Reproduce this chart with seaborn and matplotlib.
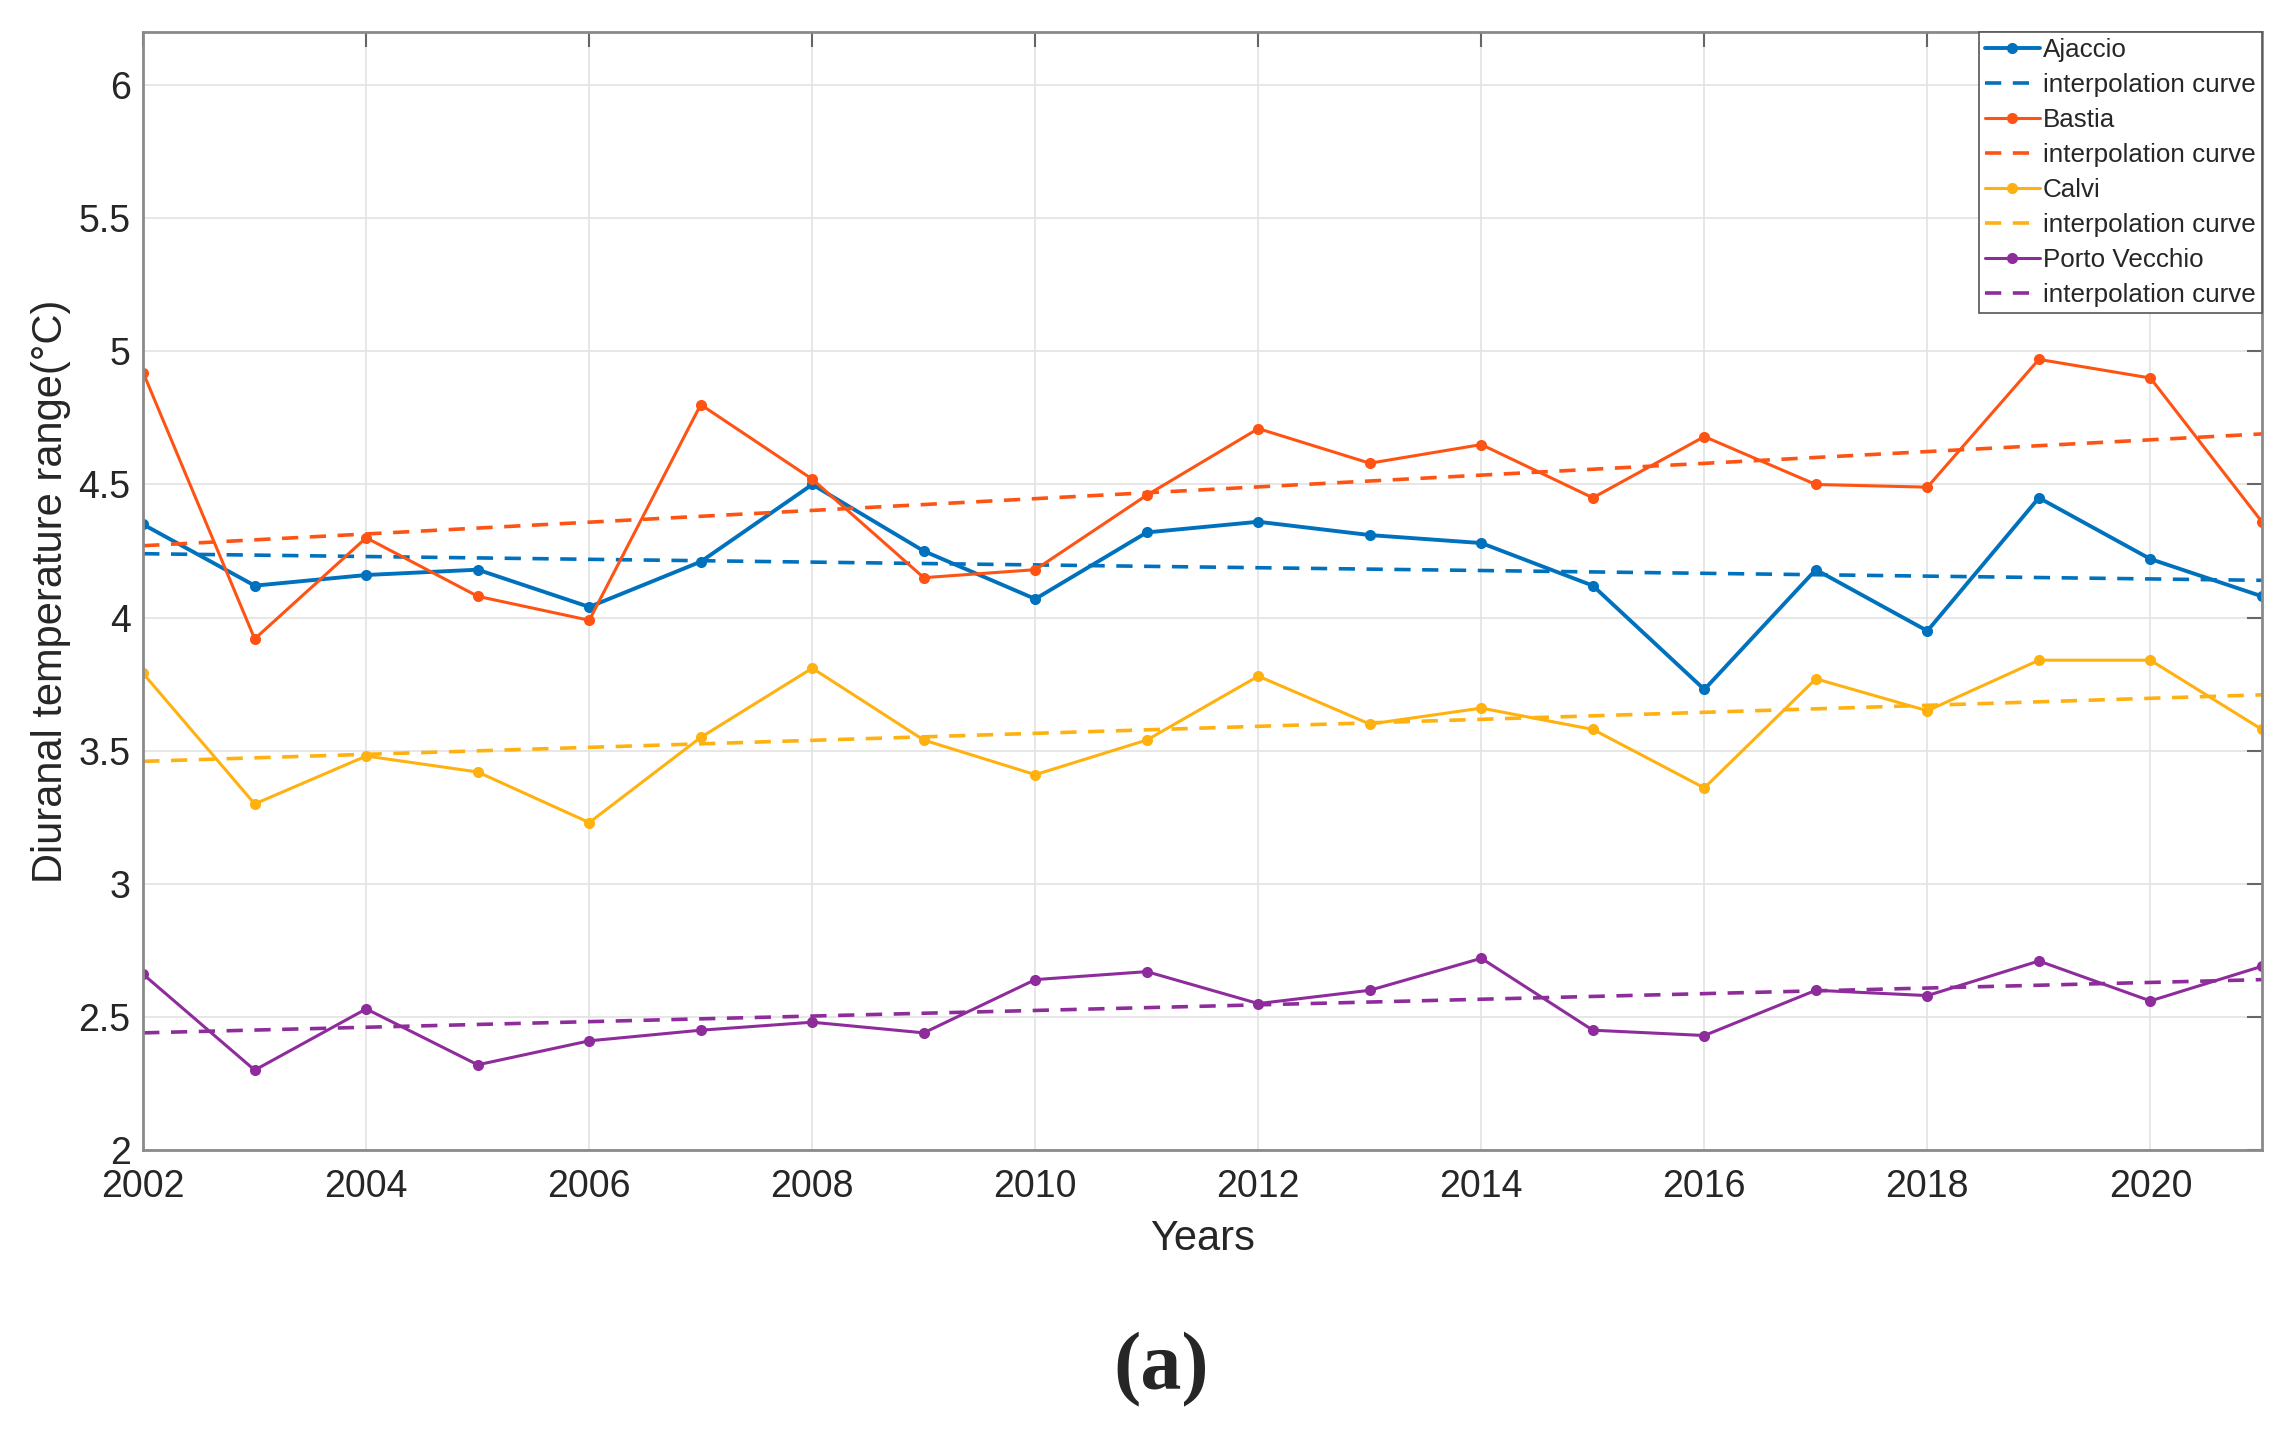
import numpy as np
import pandas as pd
import matplotlib
matplotlib.use("Agg")
import matplotlib.pyplot as plt
import matplotlib.ticker as mticker
import seaborn as sns

years = list(range(2002, 2022))

ajaccio = [4.35, 4.12, 4.16, 4.18, 4.04, 4.21, 4.50, 4.25, 4.07, 4.32,
           4.36, 4.31, 4.28, 4.12, 3.73, 4.18, 3.95, 4.45, 4.22, 4.08]
bastia = [4.92, 3.92, 4.30, 4.08, 3.99, 4.80, 4.52, 4.15, 4.18, 4.46,
          4.71, 4.58, 4.65, 4.45, 4.68, 4.50, 4.49, 4.97, 4.90, 4.36]
calvi = [3.79, 3.30, 3.48, 3.42, 3.23, 3.55, 3.81, 3.54, 3.41, 3.54,
         3.78, 3.60, 3.66, 3.58, 3.36, 3.77, 3.65, 3.84, 3.84, 3.58]
porto_vecchio = [2.66, 2.30, 2.53, 2.32, 2.41, 2.45, 2.48, 2.44, 2.64, 2.67,
                 2.55, 2.60, 2.72, 2.45, 2.43, 2.60, 2.58, 2.71, 2.56, 2.69]

# fitted trend line ends (2002, 2021)
trend_years = [2002, 2021]
ajaccio_trend = [4.24, 4.14]
bastia_trend = [4.27, 4.69]
calvi_trend = [3.46, 3.71]
porto_vecchio_trend = [2.44, 2.64]

stations = ["Ajaccio", "Bastia", "Calvi", "Porto Vecchio"]
series = [ajaccio, bastia, calvi, porto_vecchio]
trends = [ajaccio_trend, bastia_trend, calvi_trend, porto_vecchio_trend]
colors = ["#0072BD", "#FF5314", "#FFB10F", "#8E2C9C"]
widths = [2.8, 2.2, 2.2, 2.2]

sns.set_style("white")
plt.rcParams["font.family"] = ["Liberation Sans", "DejaVu Sans"]

fig = plt.figure(figsize=(22.91, 14.40), dpi=100)
ax = fig.add_axes([0.0625, 0.2014, 0.9248, 0.7764])

for name, vals, tr, c, lw in zip(stations, series, trends, colors, widths):
    df = pd.DataFrame({"Years": years, "value": vals})
    sns.lineplot(data=df, x="Years", y="value", ax=ax, color=c, lw=lw,
                 marker="o", markersize=8, markeredgewidth=0, label=name)
    dft = pd.DataFrame({"Years": trend_years, "value": tr})
    sns.lineplot(data=dft, x="Years", y="value", ax=ax, color=c, lw=2.6,
                 dashes=False, label="interpolation curve")
    ax.lines[-1].set_linestyle((0, (4.5, 3.2)))

ax.set_xlim(2002, 2021)
ax.set_ylim(2, 6.2)
ax.set_xticks(range(2002, 2021, 2))
ax.set_yticks(np.arange(2, 6.01, 0.5))
ax.yaxis.set_major_formatter(mticker.FuncFormatter(lambda v, p: "%g" % v))

ax.grid(True, color="#e3e3e3", lw=1.2)
ax.set_axisbelow(True)
for s in ax.spines.values():
    s.set_color("#8a8a8a")
    s.set_linewidth(2)
ax.tick_params(direction="in", length=11, width=1.5, color="#666666",
               labelsize=27, labelcolor="#262626", top=True, right=True)
ax.tick_params(axis="x", pad=14)
ax.tick_params(axis="y", pad=9)

ax.set_xlabel("Years", fontsize=30, color="#262626")
ax.set_ylabel("Diuranal temperature range(°C)", fontsize=30, color="#262626")
ax.xaxis.set_label_coords(0.5, -0.08)
ax.xaxis.label.set_va("center")
ax.yaxis.set_label_coords(-0.0434, 0.5)
ax.yaxis.label.set_va("center")

leg = ax.legend(loc="upper right", fontsize=18.7, borderaxespad=0,
                handlelength=2.1, handletextpad=0.12, labelspacing=0.42,
                borderpad=0.25, fancybox=False, framealpha=1,
                edgecolor="#555555")
leg.get_frame().set_linewidth(1.2)

fig.text(0.507, 0.049, "(a)", ha="center", va="center", fontsize=59,
         fontweight="bold", family=["Liberation Serif", "DejaVu Serif"])

fig.savefig("out.png", dpi=100)
